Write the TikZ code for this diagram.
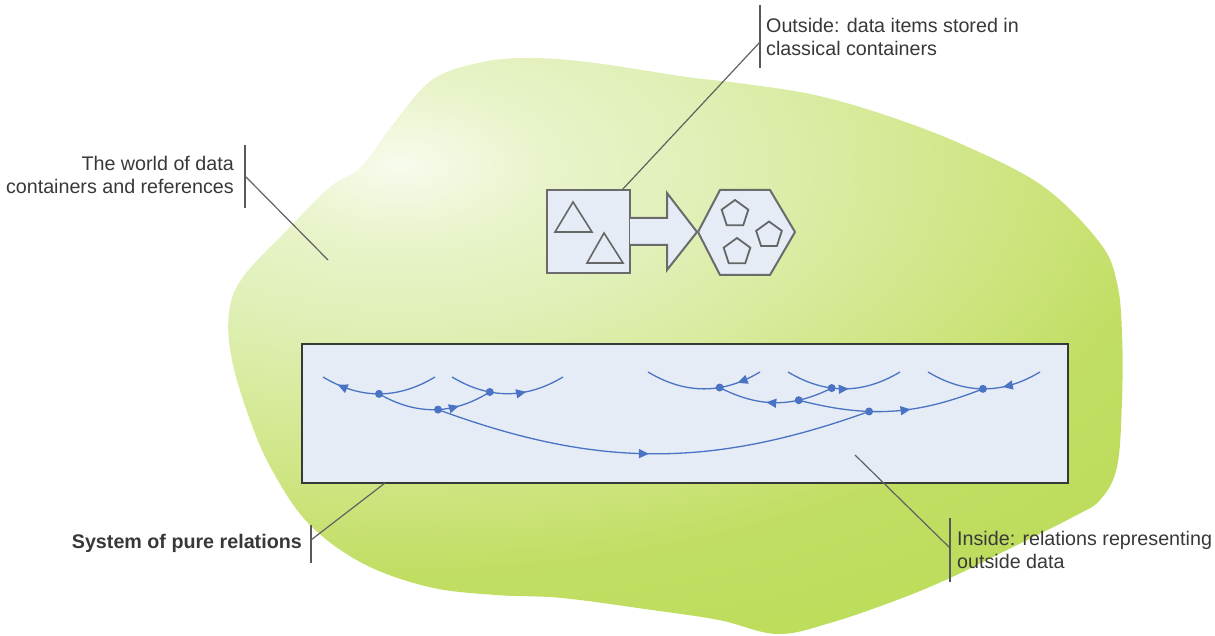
\documentclass[tikz,border=0pt]{standalone}
\usepackage{fontspec}
\setmainfont{Liberation Sans}
\usetikzlibrary{arrows.meta,decorations.markings}
\definecolor{relc}{rgb}{0.29,0.45,0.77}
\definecolor{boxfill}{rgb}{0.90,0.925,0.965}
\definecolor{txt}{rgb}{0.22,0.22,0.22}
\definecolor{shapeline}{rgb}{0.42,0.42,0.42}
\pgfdeclareradialshading{blobshade}{\pgfpoint{0bp}{0bp}}{rgb(0bp)=(0.97,0.985,0.93); rgb(3.75bp)=(0.91,0.955,0.79); rgb(7.5bp)=(0.88,0.94,0.72); rgb(10.5bp)=(0.855,0.925,0.64); rgb(16.25bp)=(0.80,0.89,0.48); rgb(19.5bp)=(0.755,0.87,0.385); rgb(25bp)=(0.74,0.865,0.36); rgb(50bp)=(0.74,0.865,0.36)}
\newcommand\pentag[3]{\draw[pent] ([shift={(90:#3)}]#1,#2) -- ([shift={(162:#3)}]#1,#2) -- ([shift={(234:#3)}]#1,#2) -- ([shift={(306:#3)}]#1,#2) -- ([shift={(18:#3)}]#1,#2) -- cycle;}
\tikzset{
  rel/.style={draw=relc, color=relc, line width=1.3pt},
  dot/.style={circle, fill=relc, inner sep=0pt, minimum size=8pt},
  fwd/.style={postaction={decorate, decoration={markings, mark=at position #1 with {\arrow{Triangle[length=10pt,width=9pt]}}}}},
  bwd/.style={postaction={decorate, decoration={markings, mark=at position #1 with {\arrowreversed{Triangle[length=10pt,width=9pt]}}}}},
  lbl/.style={inner sep=0pt, text=txt, font=\fontsize{19.7}{23}\selectfont},
  bar/.style={draw=black!65, line width=1.8pt},
  lead/.style={draw=black!62, line width=1.2pt},
  shp/.style={draw=shapeline, line width=2pt, fill=boxfill},
  inner/.style={draw=black!60, line width=1.6pt},
  pent/.style={draw=black!60, line width=1.8pt},
}
\begin{document}
\begin{tikzpicture}[x=1pt,y=1pt]
\useasboundingbox (0,0) rectangle (1215,635);
% blob
\begin{scope}
\clip plot[smooth cycle, tension=0.6] coordinates {
(432,555) (483,573) (534,577) (595,572) (687,558) (738,552) (815,540) (891,518) (968,488) (1044,448) (1100,392) (1117,352) (1122,302) (1122,235) (1117,168) (1100,135) (1073,118) (1007,85) (950,57) (897,35) (830,12) (777,1) (719,15) (652,25) (562,37) (496,40) (429,48) (362,72) (308,112) (272,165) (250,215) (232,275) (229,322) (243,358) (290,408) (330,448) (361,468) (391,508)};
\shade[shading=blobshade] (400,470) ellipse [x radius=1000, y radius=526];
\end{scope}

% relation box
\node[draw=black!78, line width=2.5pt, fill=boxfill, minimum width=766pt, minimum height=139pt, inner sep=0pt] (relbox) at (685,221.5) {};

% square with triangles
\node[shp, minimum width=83pt, minimum height=83pt, inner sep=0pt] (sq) at (588.5,403.5) {};
\draw[inner] (573,433) -- (555,403) -- (592,403) -- cycle;
\draw[inner] (604,402) -- (587,372) -- (623,372) -- cycle;
% block arrow
\draw[shp] (630,417) -- (667,417) -- (667,442) -- (697,403) -- (667,365) -- (667,390) -- (630,390);
% hexagon
\draw[shp] (698,403) -- (720,445) -- (770,445) -- (795,403) -- (770,360) -- (720,360) -- cycle;
\pentag{735}{421}{14}
\pentag{769}{400}{13.5}
\pentag{737}{383}{14}

% relations
\coordinate (a1l) at (323,258); \coordinate (a1r) at (435,258);
\coordinate (a2l) at (452,258); \coordinate (a2r) at (563,258);
\coordinate (a3l) at (648,263); \coordinate (a3r) at (760,263);
\coordinate (a4l) at (788,263); \coordinate (a4r) at (900,263);
\coordinate (a5l) at (928,263); \coordinate (a5r) at (1040,263);
\draw[rel, bwd=0.14] (a1l) to[bend right=31] node[dot,pos=0.5] (d1) {} (a1r);
\draw[rel, fwd=0.66] (a2l) to[bend right=31] node[dot,pos=0.34] (d2) {} (a2r);
\draw[rel, bwd=0.79] (a3l) to[bend right=31] node[dot,pos=0.64] (d3) {} (a3r);
\draw[rel, fwd=0.54] (a4l) to[bend right=31] node[dot,pos=0.39] (d4) {} (a4r);
\draw[rel, bwd=0.66] (a5l) to[bend right=31] node[dot,pos=0.49] (d5) {} (a5r);
\draw[rel, fwd=0.71] (d1.center) to[bend right=31] node[dot,pos=0.53] (e1) {} (d2.center);
\draw[rel, bwd=0.42] (d3.center) to[bend right=27] node[dot,pos=0.71] (e2) {} (d4.center);
\draw[rel, fwd=0.6] (e2.center) to[bend right=18] node[dot,pos=0.37] (e3) {} (d5.center);
\draw[rel, fwd=0.49] (e1.center) to[bend right=20] (e3.center);

% labels
\node[lbl, anchor=east, align=right] (world) at (234,460.5) {The world of data\\containers and references};
\coordinate (wb1) at (245,490); \coordinate (wb2) at (245,427);
\coordinate (wm) at (246,458); \coordinate (we) at (328,375);
\draw[bar] (wb1) -- (wb2);
\draw[lead] (wm) -- (we);

\node[lbl, anchor=west, align=left] (outside) at (766,598.5) {Outside: data items stored in\\classical containers};
\coordinate (ob1) at (760,630); \coordinate (ob2) at (760,567);
\coordinate (om) at (760,593); \coordinate (oe) at (622,445);
\draw[bar] (ob1) -- (ob2);
\draw[lead] (om) -- (oe);

\node[lbl, anchor=east, font=\fontsize{19.7}{23}\selectfont\bfseries] (system) at (302,92) {System of pure relations};
\coordinate (sb1) at (311,110); \coordinate (sb2) at (311,72);
\coordinate (sm) at (311,95); \coordinate (se) at (385,152);
\draw[bar] (sb1) -- (sb2);
\draw[lead] (sm) -- (se);

\node[lbl, anchor=west, align=left] (inside) at (957,85.5) {Inside: relations representing\\outside data};
\coordinate (ib1) at (950,117); \coordinate (ib2) at (950,53);
\coordinate (im) at (950,87); \coordinate (ie) at (855,180);
\draw[bar] (ib1) -- (ib2);
\draw[lead] (im) -- (ie);
\end{tikzpicture}
\end{document}
